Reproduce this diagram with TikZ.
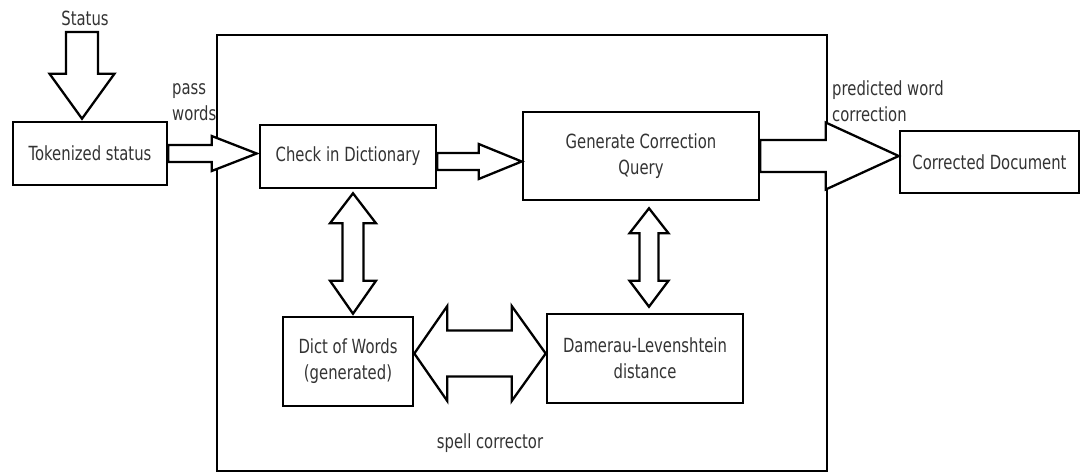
\documentclass[tikz,border=0pt]{standalone}
\usepackage{fontspec}
\setmainfont{DejaVu Sans}[FakeStretch=0.76]
\usetikzlibrary{calc}

\tikzset{
  txt/.style={font=\fontsize{19.5}{26}\selectfont, text=black!80},
  box/.style={txt, draw, line width=2.6pt, fill=white, inner sep=0pt, align=center},
  lbl/.style={txt, inner sep=0pt, align=left},
  blk/.style={draw, line width=2.3pt, fill=white, line join=miter},
}

% block arrow: from, to, shaft half width, head half width, head length
\newcommand\singlearrow[5]{%
  \coordinate (h) at ($(#2)!#5!(#1)$);
  \draw[blk] ($(#1)!#3!90:(#2)$) -- ($(h)!#3!90:(#2)$) -- ($(h)!#4!90:(#2)$) -- (#2)
    -- ($(h)!#4!-90:(#2)$) -- ($(h)!#3!-90:(#2)$) -- ($(#1)!#3!-90:(#2)$) -- cycle;
}
% two-headed block arrow: from, to, shaft half width, head half width, head lengths
\newcommand\doublearrow[6]{%
  \coordinate (ha) at ($(#1)!#5!(#2)$);
  \coordinate (hb) at ($(#2)!#6!(#1)$);
  \draw[blk] (#1) -- ($(ha)!#4!90:(#2)$) -- ($(ha)!#3!90:(#2)$) -- ($(hb)!#3!90:(#2)$)
    -- ($(hb)!#4!90:(#2)$) -- (#2) -- ($(hb)!#4!-90:(#2)$) -- ($(hb)!#3!-90:(#2)$)
    -- ($(ha)!#3!-90:(#2)$) -- ($(ha)!#4!-90:(#2)$) -- cycle;
}

\begin{document}
\begin{tikzpicture}[x=1pt, y=-1pt]
\useasboundingbox (0,0) rectangle (1081,474);

% spell corrector frame
\node[draw, line width=2pt, minimum width=610pt, minimum height=436pt, inner sep=0pt] (frame) at (522,253) {};
\node[lbl] (spell) at (490,443) {spell corrector};

% boxes
\node[box, minimum width=154pt, minimum height=63pt] (tok) at (90,153.5) {Tokenized status};
\node[box, minimum width=176pt, minimum height=63pt] (check) at (348,156.5) {Check in Dictionary};
\node[box, minimum width=236pt, minimum height=88pt] (gen) at (641,156) {Generate Correction\\Query};
\node[box, minimum width=179pt, minimum height=62pt] (corr) at (989.5,162) {Corrected Document};
\node[box, minimum width=130pt, minimum height=89pt] (dict) at (348,361.5) {Dict of Words\\(generated)};
\node[box, minimum width=196pt, minimum height=89pt] (dam) at (645,358.5) {Damerau-Levenshtein\\distance};

% labels
\node[lbl] (status) at (85,18) {Status};
\node[lbl, anchor=west] (pass) at (172,102) {pass\\words};
\node[lbl, anchor=west] (pred) at (832,101.5) {predicted word\\correction};

% Status -> Tokenized status
\coordinate (s0) at (82,32);
\coordinate (s1) at ($(tok.north -| s0)+(0,-2)$);
\singlearrow{s0}{s1}{16pt}{32.5pt}{45pt}

% Tokenized status -> Check in Dictionary
\coordinate (p0) at (tok.east);
\coordinate (p1) at ($(check.west |- tok.east)+(-2,0)$);
\singlearrow{p0}{p1}{8.5pt}{17.5pt}{45pt}

% Check in Dictionary -> Generate Correction Query
\coordinate (c0) at ($(check.east)+(0,5)$);
\coordinate (c1) at (gen.west |- c0);
\singlearrow{c0}{c1}{8.5pt}{17.5pt}{43pt}

% Generate Correction Query -> Corrected Document
\coordinate (g0) at (gen.east);
\coordinate (g1) at (corr.west |- gen.east);
\singlearrow{g0}{g1}{16pt}{33.5pt}{73pt}

% Check in Dictionary <-> Dict of Words
\coordinate (d0) at ($(check.south)+(5,4)$);
\coordinate (d1) at ($(d0 |- dict.north)+(0,-2)$);
\doublearrow{d0}{d1}{10.5pt}{23pt}{30pt}{33pt}

% Generate Correction Query <-> Damerau-Levenshtein distance
\coordinate (q0) at ($(gen.south)+(8,7)$);
\coordinate (q1) at ($(q0 |- dam.north)+(0,-6)$);
\doublearrow{q0}{q1}{9.5pt}{19.5pt}{25pt}{26pt}

% Dict of Words <-> Damerau-Levenshtein distance
\coordinate (w0) at ($(dict.east)+(0,-8)$);
\coordinate (w1) at (dam.west |- w0);
\doublearrow{w0}{w1}{23pt}{47.5pt}{33pt}{34pt}
\end{tikzpicture}
\end{document}
